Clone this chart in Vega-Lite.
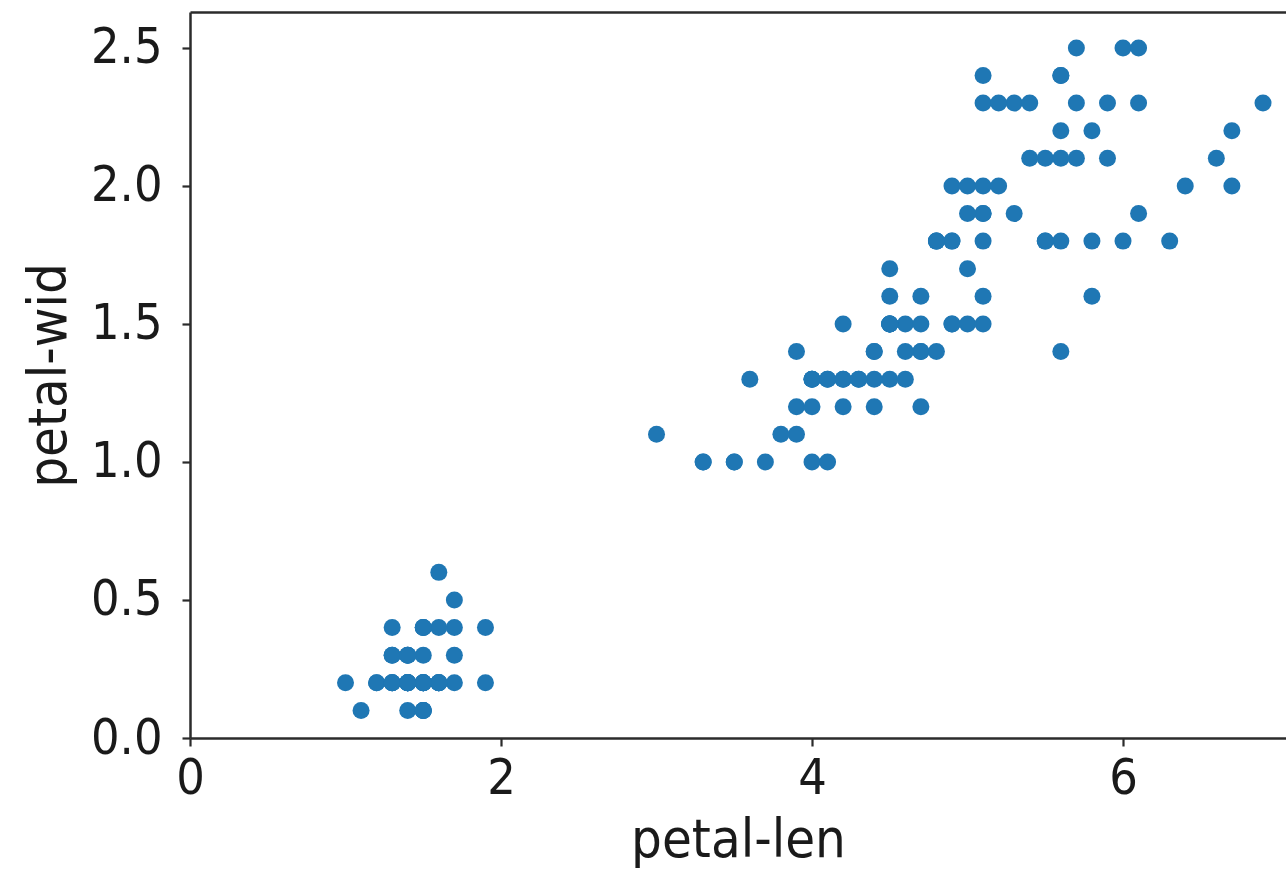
{
  "$schema": "https://vega.github.io/schema/vega-lite/v6.json",
  "width": 1096,
  "height": 726,
  "autosize": {"type": "none"},
  "padding": {"left": 190, "top": 12, "right": 0, "bottom": 138},
  "background": "white",
  "config": {
    "view": {"stroke": null},
    "font": "DejaVu Sans Condensed, DejaVu Sans",
    "axis": {
      "domainColor": "#2b2b2b",
      "domainWidth": 2.5,
      "tickColor": "#2b2b2b",
      "tickWidth": 2.2,
      "tickSize": 8,
      "labelFont": "DejaVu Sans Condensed, DejaVu Sans",
      "labelFontSize": 50,
      "labelColor": "#1a1a1a",
      "titleFont": "DejaVu Sans Condensed, DejaVu Sans",
      "titleFontSize": 54,
      "titleFontWeight": "normal",
      "titleColor": "#1a1a1a",
      "grid": false
    }
  },
  "data": {
    "values": [
      {"petal_len": 1.4, "petal_wid": 0.2}, {"petal_len": 1.4, "petal_wid": 0.2}, {"petal_len": 1.3, "petal_wid": 0.2},
      {"petal_len": 1.5, "petal_wid": 0.2}, {"petal_len": 1.4, "petal_wid": 0.2}, {"petal_len": 1.7, "petal_wid": 0.4},
      {"petal_len": 1.4, "petal_wid": 0.3}, {"petal_len": 1.5, "petal_wid": 0.2}, {"petal_len": 1.4, "petal_wid": 0.2},
      {"petal_len": 1.5, "petal_wid": 0.1}, {"petal_len": 1.5, "petal_wid": 0.2}, {"petal_len": 1.6, "petal_wid": 0.2},
      {"petal_len": 1.4, "petal_wid": 0.1}, {"petal_len": 1.1, "petal_wid": 0.1}, {"petal_len": 1.2, "petal_wid": 0.2},
      {"petal_len": 1.5, "petal_wid": 0.4}, {"petal_len": 1.3, "petal_wid": 0.4}, {"petal_len": 1.4, "petal_wid": 0.3},
      {"petal_len": 1.7, "petal_wid": 0.3}, {"petal_len": 1.5, "petal_wid": 0.3}, {"petal_len": 1.7, "petal_wid": 0.2},
      {"petal_len": 1.5, "petal_wid": 0.4}, {"petal_len": 1.0, "petal_wid": 0.2}, {"petal_len": 1.7, "petal_wid": 0.5},
      {"petal_len": 1.9, "petal_wid": 0.2}, {"petal_len": 1.6, "petal_wid": 0.2}, {"petal_len": 1.6, "petal_wid": 0.4},
      {"petal_len": 1.5, "petal_wid": 0.2}, {"petal_len": 1.4, "petal_wid": 0.2}, {"petal_len": 1.6, "petal_wid": 0.2},
      {"petal_len": 1.6, "petal_wid": 0.2}, {"petal_len": 1.5, "petal_wid": 0.4}, {"petal_len": 1.5, "petal_wid": 0.1},
      {"petal_len": 1.4, "petal_wid": 0.2}, {"petal_len": 1.5, "petal_wid": 0.1}, {"petal_len": 1.2, "petal_wid": 0.2},
      {"petal_len": 1.3, "petal_wid": 0.2}, {"petal_len": 1.5, "petal_wid": 0.1}, {"petal_len": 1.3, "petal_wid": 0.2},
      {"petal_len": 1.5, "petal_wid": 0.2}, {"petal_len": 1.3, "petal_wid": 0.3}, {"petal_len": 1.3, "petal_wid": 0.3},
      {"petal_len": 1.3, "petal_wid": 0.2}, {"petal_len": 1.6, "petal_wid": 0.6}, {"petal_len": 1.9, "petal_wid": 0.4},
      {"petal_len": 1.4, "petal_wid": 0.3}, {"petal_len": 1.6, "petal_wid": 0.2}, {"petal_len": 1.4, "petal_wid": 0.2},
      {"petal_len": 1.5, "petal_wid": 0.2}, {"petal_len": 1.4, "petal_wid": 0.2},
      {"petal_len": 4.7, "petal_wid": 1.4}, {"petal_len": 4.5, "petal_wid": 1.5}, {"petal_len": 4.9, "petal_wid": 1.5},
      {"petal_len": 4.0, "petal_wid": 1.3}, {"petal_len": 4.6, "petal_wid": 1.5}, {"petal_len": 4.5, "petal_wid": 1.3},
      {"petal_len": 4.7, "petal_wid": 1.6}, {"petal_len": 3.3, "petal_wid": 1.0}, {"petal_len": 4.6, "petal_wid": 1.3},
      {"petal_len": 3.9, "petal_wid": 1.4}, {"petal_len": 3.5, "petal_wid": 1.0}, {"petal_len": 4.2, "petal_wid": 1.5},
      {"petal_len": 4.0, "petal_wid": 1.0}, {"petal_len": 4.7, "petal_wid": 1.4}, {"petal_len": 3.6, "petal_wid": 1.3},
      {"petal_len": 4.4, "petal_wid": 1.4}, {"petal_len": 4.5, "petal_wid": 1.5}, {"petal_len": 4.1, "petal_wid": 1.0},
      {"petal_len": 4.5, "petal_wid": 1.5}, {"petal_len": 3.9, "petal_wid": 1.1}, {"petal_len": 4.8, "petal_wid": 1.8},
      {"petal_len": 4.0, "petal_wid": 1.3}, {"petal_len": 4.9, "petal_wid": 1.5}, {"petal_len": 4.7, "petal_wid": 1.2},
      {"petal_len": 4.3, "petal_wid": 1.3}, {"petal_len": 4.4, "petal_wid": 1.4}, {"petal_len": 4.8, "petal_wid": 1.4},
      {"petal_len": 5.0, "petal_wid": 1.7}, {"petal_len": 4.5, "petal_wid": 1.5}, {"petal_len": 3.5, "petal_wid": 1.0},
      {"petal_len": 3.8, "petal_wid": 1.1}, {"petal_len": 3.7, "petal_wid": 1.0}, {"petal_len": 3.9, "petal_wid": 1.2},
      {"petal_len": 5.1, "petal_wid": 1.6}, {"petal_len": 4.5, "petal_wid": 1.5}, {"petal_len": 4.5, "petal_wid": 1.6},
      {"petal_len": 4.7, "petal_wid": 1.5}, {"petal_len": 4.4, "petal_wid": 1.3}, {"petal_len": 4.1, "petal_wid": 1.3},
      {"petal_len": 4.0, "petal_wid": 1.3}, {"petal_len": 4.4, "petal_wid": 1.2}, {"petal_len": 4.6, "petal_wid": 1.4},
      {"petal_len": 4.0, "petal_wid": 1.2}, {"petal_len": 3.3, "petal_wid": 1.0}, {"petal_len": 4.2, "petal_wid": 1.3},
      {"petal_len": 4.2, "petal_wid": 1.2}, {"petal_len": 4.2, "petal_wid": 1.3}, {"petal_len": 4.3, "petal_wid": 1.3},
      {"petal_len": 3.0, "petal_wid": 1.1}, {"petal_len": 4.1, "petal_wid": 1.3},
      {"petal_len": 6.0, "petal_wid": 2.5}, {"petal_len": 5.1, "petal_wid": 1.9}, {"petal_len": 5.9, "petal_wid": 2.1},
      {"petal_len": 5.6, "petal_wid": 1.8}, {"petal_len": 5.8, "petal_wid": 2.2}, {"petal_len": 6.6, "petal_wid": 2.1},
      {"petal_len": 4.5, "petal_wid": 1.7}, {"petal_len": 6.3, "petal_wid": 1.8}, {"petal_len": 5.8, "petal_wid": 1.8},
      {"petal_len": 6.1, "petal_wid": 2.5}, {"petal_len": 5.1, "petal_wid": 2.0}, {"petal_len": 5.3, "petal_wid": 1.9},
      {"petal_len": 5.5, "petal_wid": 2.1}, {"petal_len": 5.0, "petal_wid": 2.0}, {"petal_len": 5.1, "petal_wid": 2.4},
      {"petal_len": 5.3, "petal_wid": 2.3}, {"petal_len": 5.5, "petal_wid": 1.8}, {"petal_len": 6.7, "petal_wid": 2.2},
      {"petal_len": 6.9, "petal_wid": 2.3}, {"petal_len": 5.0, "petal_wid": 1.5}, {"petal_len": 5.7, "petal_wid": 2.3},
      {"petal_len": 4.9, "petal_wid": 2.0}, {"petal_len": 6.7, "petal_wid": 2.0}, {"petal_len": 4.9, "petal_wid": 1.8},
      {"petal_len": 5.7, "petal_wid": 2.1}, {"petal_len": 6.0, "petal_wid": 1.8}, {"petal_len": 4.8, "petal_wid": 1.8},
      {"petal_len": 4.9, "petal_wid": 1.8}, {"petal_len": 5.6, "petal_wid": 2.1}, {"petal_len": 5.8, "petal_wid": 1.6},
      {"petal_len": 6.1, "petal_wid": 1.9}, {"petal_len": 6.4, "petal_wid": 2.0}, {"petal_len": 5.6, "petal_wid": 2.2},
      {"petal_len": 5.1, "petal_wid": 1.5}, {"petal_len": 5.6, "petal_wid": 1.4}, {"petal_len": 6.1, "petal_wid": 2.3},
      {"petal_len": 5.6, "petal_wid": 2.4}, {"petal_len": 5.5, "petal_wid": 1.8}, {"petal_len": 4.8, "petal_wid": 1.8},
      {"petal_len": 5.4, "petal_wid": 2.1}, {"petal_len": 5.6, "petal_wid": 2.4}, {"petal_len": 5.1, "petal_wid": 2.3},
      {"petal_len": 5.1, "petal_wid": 1.9}, {"petal_len": 5.9, "petal_wid": 2.3}, {"petal_len": 5.7, "petal_wid": 2.5},
      {"petal_len": 5.2, "petal_wid": 2.3}, {"petal_len": 5.0, "petal_wid": 1.9}, {"petal_len": 5.2, "petal_wid": 2.0},
      {"petal_len": 5.4, "petal_wid": 2.3}, {"petal_len": 5.1, "petal_wid": 1.8}
    ]
  },
  "layer": [
    {
      "mark": {"type": "point", "shape": "circle", "filled": true, "opacity": 1, "size": 289, "color": "#1f77b4"},
      "encoding": {
        "x": {
          "field": "petal_len", "type": "quantitative",
          "scale": {"domain": [0, 7.048], "nice": false, "zero": false},
          "axis": {"title": "petal-len", "values": [0, 2, 4, 6], "format": "d", "labelPadding": 7, "titlePadding": 10, "labelFlush": false}
        },
        "y": {
          "field": "petal_wid", "type": "quantitative",
          "scale": {"domain": [0, 2.63], "nice": false, "zero": false},
          "axis": {"title": "petal-wid", "values": [0, 0.5, 1, 1.5, 2, 2.5], "format": ".1f", "labelPadding": 20, "titlePadding": 14, "labelFlush": false}
        }
      }
    },
    {
      "mark": {"type": "point", "opacity": 0},
      "encoding": {
        "x": {
          "field": "petal_len", "type": "quantitative",
          "axis": {"orient": "top", "title": null, "labels": false, "ticks": false}
        },
        "y": {"field": "petal_wid", "type": "quantitative"}
      }
    }
  ],
  "resolve": {"axis": {"x": "independent"}}
}
